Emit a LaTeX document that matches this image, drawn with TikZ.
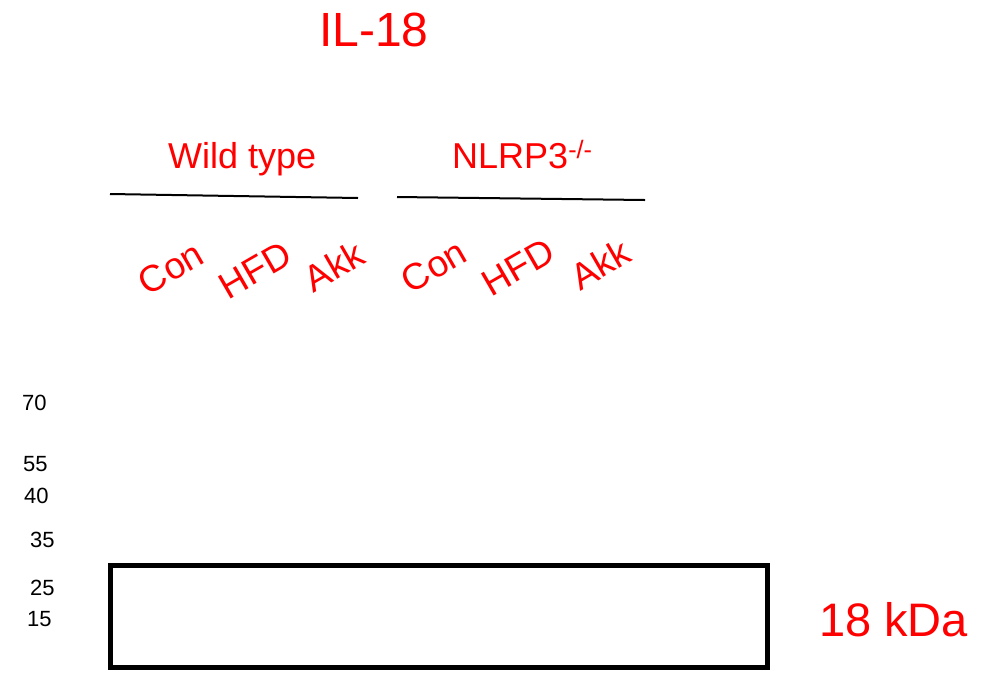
\documentclass[tikz,border=0pt]{standalone}
\usepackage{fontspec}
\setmainfont{Liberation Sans}
\definecolor{lblred}{RGB}{255,0,0}
\begin{document}
\begin{tikzpicture}[x=1pt,y=1pt,
  redlbl/.style={text=lblred,inner sep=0pt},
  bigtitle/.style={redlbl,font=\fontsize{48}{48}\selectfont,anchor=base west},
  grouplbl/.style={redlbl,font=\fontsize{36}{36}\selectfont,anchor=base west},
  lanelbl/.style={redlbl,font=\fontsize{37}{37}\selectfont,rotate=30,anchor=center},
  marker/.style={inner sep=0pt,font=\fontsize{22}{22}\selectfont,anchor=base west},
  grpline/.style={line width=2pt},
  blotbox/.style={line width=5pt}]
\useasboundingbox (0,-673) rectangle (987,0);
\node[bigtitle] (title) at (319,-46) {IL-18};
\node[grouplbl] (wt) at (168,-168) {Wild type};
\node[grouplbl] (ko) at (452,-168) {NLRP3\textsuperscript{-/-}};
\coordinate (l1a) at (110,-194); \coordinate (l1b) at (358,-198);
\coordinate (l2a) at (397,-197); \coordinate (l2b) at (645,-200);
\draw[grpline] (l1a) -- (l1b);
\draw[grpline] (l2a) -- (l2b);
\node[lanelbl] (c1) at (171,-268) {Con};
\node[lanelbl] (h1) at (255,-270) {HFD};
\node[lanelbl] (a1) at (334,-266) {Akk};
\node[lanelbl] (c2) at (434,-266) {Con};
\node[lanelbl] (h2) at (518,-267) {HFD};
\node[lanelbl] (a2) at (600,-264) {Akk};
\node[marker] (m70) at (22,-410) {70};
\node[marker] (m55) at (23,-471) {55};
\node[marker] (m40) at (24,-503) {40};
\node[marker] (m35) at (30,-547) {35};
\node[marker] (m25) at (30,-595) {25};
\node[marker] (m15) at (27,-626) {15};
\coordinate (b1) at (110.5,-565.5); \coordinate (b2) at (767.5,-667.5);
\draw[blotbox] (b1) rectangle (b2);
\node[bigtitle,font=\fontsize{47}{47}\selectfont] (kda) at (819,-636) {18 kDa};
\end{tikzpicture}
\end{document}
